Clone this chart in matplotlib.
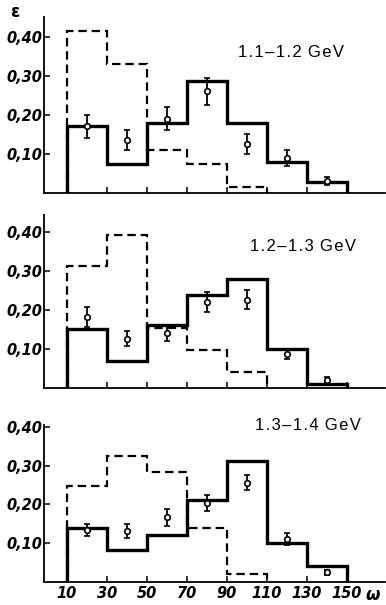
import numpy as np
import matplotlib
matplotlib.use("Agg")
import matplotlib.pyplot as plt

edges = [10, 30, 50, 70, 90, 110, 130, 150]
dash_edges = [10, 30, 50, 70, 90, 110]
pts_x = [20, 40, 60, 80, 100, 120, 140]

labels = ["1.1\u20131.2 GeV", "1.2\u20131.3 GeV", "1.3\u20131.4 GeV"]

solid1 = [0.170, 0.074, 0.180, 0.287, 0.180, 0.080, 0.028]
dash1 = [0.415, 0.330, 0.110, 0.074, 0.015]
pts1 = [0.170, 0.135, 0.190, 0.260, 0.125, 0.090, 0.030]
err1 = [0.030, 0.025, 0.030, 0.035, 0.025, 0.020, 0.010]

solid2 = [0.151, 0.068, 0.160, 0.238, 0.280, 0.100, 0.010]
dash2 = [0.312, 0.393, 0.154, 0.098, 0.041]
pts2 = [0.182, 0.126, 0.141, 0.220, 0.226, 0.087, 0.021]
err2 = [0.025, 0.020, 0.020, 0.025, 0.025, 0.012, 0.006]

solid3 = [0.140, 0.082, 0.122, 0.211, 0.312, 0.099, 0.041]
dash3 = [0.247, 0.325, 0.284, 0.138, 0.019]
pts3 = [0.134, 0.132, 0.166, 0.203, 0.256, 0.110, 0.024]
err3 = [0.015, 0.018, 0.022, 0.020, 0.020, 0.015, 0.006]

yticks = [0.10, 0.20, 0.30, 0.40]
ytick_labels = ["0,10", "0,20", "0,30", "0,40"]
xticks = [10, 30, 50, 70, 90, 110, 130, 150]

panels = [
    (solid1, dash1, pts1, err1, [0.114, 0.681, 0.883, 0.291], 0.45, (0.57, 0.80)),
    (solid2, dash2, pts2, err2, [0.114, 0.359, 0.883, 0.286], 0.444, (0.605, 0.815)),
    (solid3, dash3, pts3, err3, [0.114, 0.0385, 0.883, 0.259], 0.405, (0.62, 1.0)),
]

tickfont = dict(family="DejaVu Sans", style="italic", weight="bold", size=10.5)

fig = plt.figure(figsize=(3.86, 6.05), dpi=100)

for i, (solid, dash, pts, err, rect, ytop, tpos) in enumerate(panels):
    ax = fig.add_axes(rect)
    ax.stairs(solid, edges, baseline=0, color="black", linewidth=2.4)
    ax.stairs(dash, dash_edges, baseline=0, color="black", linewidth=1.6,
              linestyle=(0, (3.8, 2.2)))
    ax.errorbar(pts_x, pts, yerr=err, fmt="o", color="black", markersize=4,
                markerfacecolor="white", markeredgewidth=1.2, elinewidth=1.3,
                capsize=2, capthick=1.2)
    ax.set_xlim(-1.5, 169)
    ax.set_ylim(0, ytop)
    for s in ["top", "right"]:
        ax.spines[s].set_visible(False)
    ax.spines["left"].set_linewidth(1.3)
    ax.spines["bottom"].set_linewidth(1.3)
    ax.set_yticks(yticks)
    ax.set_yticklabels(ytick_labels, fontdict=tickfont)
    ax.set_xticks(xticks)
    ax.tick_params(direction="in", length=4, width=1.1, pad=1)
    if i == 2:
        ax.set_xticklabels([str(v) for v in xticks], fontdict=tickfont)
        ax.tick_params(axis="x", pad=3)
        ax.text(0.985, -0.03, "\u03c9", transform=ax.transAxes, ha="right", va="top",
                fontsize=12, style="italic", weight="bold")
    else:
        ax.set_xticklabels([])
    # letter-spaced label, like the printed original
    spaced = "\u200a".join(labels[i].replace(" ", "\u2009"))
    ax.text(tpos[0], tpos[1], spaced, transform=ax.transAxes, ha="left",
            va="center", family="Liberation Sans", fontsize=12)

fig.text(0.038, 0.995, "\u03b5", ha="center", va="top", fontsize=12, weight="bold")

fig.savefig("out.png", dpi=100)
